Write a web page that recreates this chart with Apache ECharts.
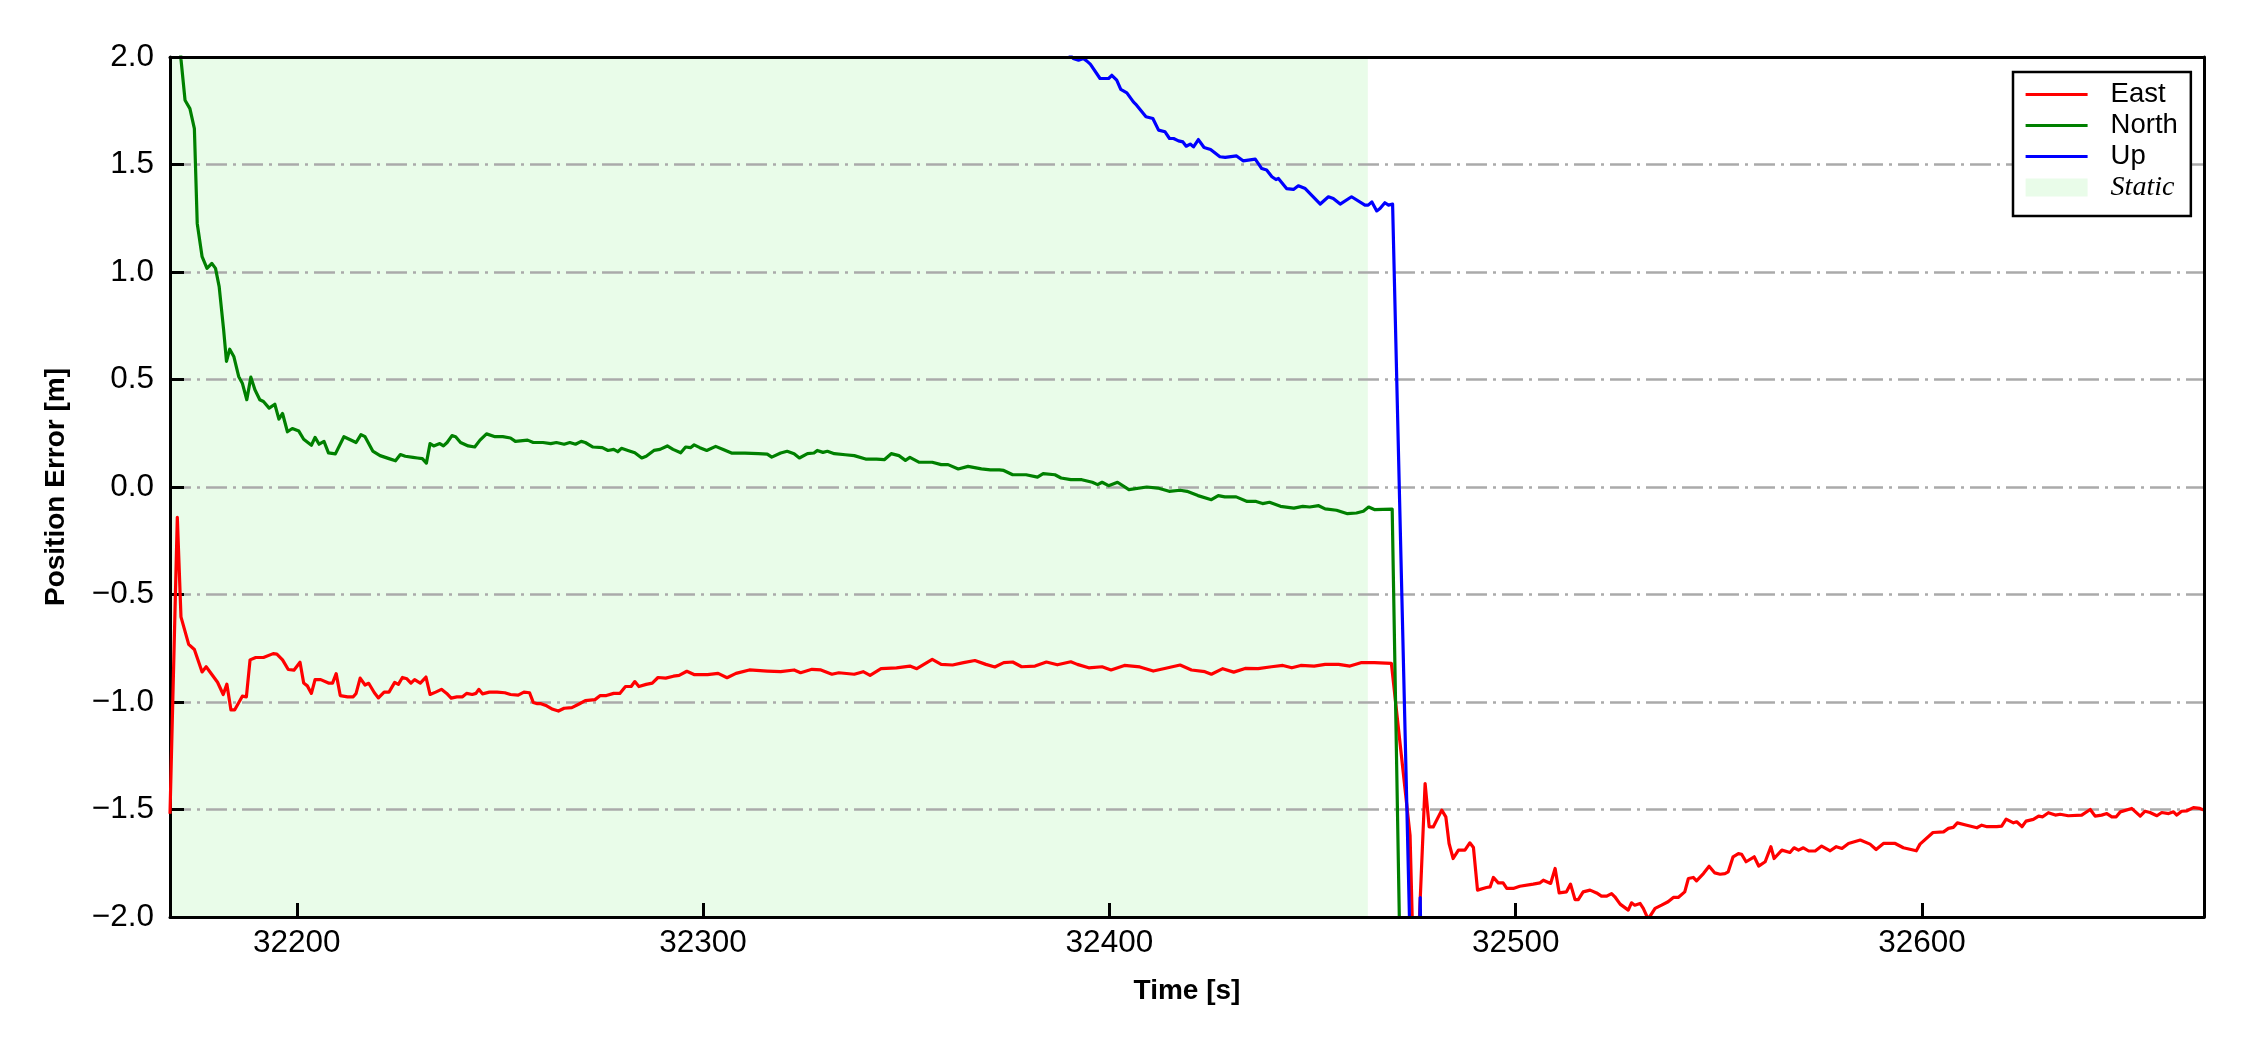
<!DOCTYPE html>
<html>
<head>
<meta charset="utf-8">
<script src="https://cdn.jsdelivr.net/npm/echarts@6/dist/echarts.min.js"></script>
<style>
html,body{margin:0;padding:0;background:#fff;}
#chart{width:2250px;height:1050px;}
</style>
</head>
<body>
<div id="chart"></div>
<script>
// ---- data ----
const xMin = 32168.8, xMax = 32669.4;
const yMin = -2, yMax = 2, yStep = 0.5;
const staticStart = 32168.8, staticEnd = 32463.6;

const eastT = [32168.8,32170.6,32171.5,32173.4,32174.8,32176.7,32177.7,32180.5,32181.9,32182.8,32183.8,32184.7,32186.6,32187.6,32188.5,32189.9,32191.8,32194.2,32195.1,32196.5,32197.9,32199.3,32200.8,32201.7,32202.6,32203.6,32204.5,32205.9,32207.8,32208.8,32209.7,32210.7,32212.5,32213.9,32214.6,32215.6,32216.8,32217.7,32219.1,32220.1,32221.5,32222.7,32224.1,32225.0,32226.0,32227.1,32228.1,32229.0,32230.4,32231.8,32232.8,32234.2,32235.6,32236.9,32238.0,32239.4,32240.8,32241.8,32243.2,32244.1,32244.8,32245.7,32247.4,32249.3,32251.2,32252.6,32254.5,32255.9,32257.3,32258.2,32259.2,32260.1,32261.5,32263.0,32264.4,32265.8,32267.7,32269.6,32271.0,32273.4,32274.7,32276.2,32278.0,32279.5,32280.9,32282.3,32283.2,32284.2,32286.0,32287.5,32288.9,32290.8,32292.7,32294.1,32296.0,32297.9,32299.3,
32301.1,32303.7,32305.9,32308.1,32311.4,32315.8,32319.1,32322.4,32324.0,32326.8,32329.0,32331.7,32333.4,32337.2,32339.4,32341.1,32343.8,32347.6,32350.9,32352.6,32356.4,32358.6,32361.4,32364.1,32366.9,32369.6,32371.8,32374.0,32376.2,32378.4,32381.7,32384.5,32387.2,32390.5,32392.1,32394.9,32398.2,32400.4,32403.7,32407.5,32410.8,32413.6,32417.4,32420.2,32423.5,32425.1,32427.9,32430.6,32433.4,32436.6,32439.9,32442.7,32444.9,32447.1,32450.4,32453.1,32456.4,32459.2,32461.9,32465.2,32469.4,
32474.0,32475.2,32477.7,32478.7,32479.7,32481.8,32482.8,32483.6,32484.6,32485.9,32487.5,32488.7,32489.6,32490.6,32492.8,32493.7,32494.5,32495.7,32496.9,32497.8,32499.4,32501.0,32504.3,32506.0,32506.8,32508.6,32509.7,32510.7,32512.5,32513.5,32514.6,32515.4,32516.6,32518.3,32519.9,32521.1,32522.4,32523.6,32524.4,32525.7,32527.7,32528.5,32529.3,32530.6,32531.4,32532.6,32534.3,32535.9,32537.5,32538.8,32540.0,32541.6,32542.5,32543.7,32544.5,32546.2,32547.6,32549.0,32550.3,32551.5,32552.3,32553.5,32554.8,32555.6,32556.7,
32558.7,32559.8,32561.4,32562.8,32563.6,32565.5,32567.5,32568.5,32569.6,32570.8,32572.1,32573.7,32575.3,32577.4,32578.9,32580.3,32581.9,32584.8,32587.2,32588.7,32590.5,32593.4,32595.4,32598.6,32599.5,32602.7,32605.3,32606.5,32607.7,32608.7,32611.0,32613.5,32614.7,32616.0,32618.4,32619.6,32620.7,32622.5,32623.3,32624.6,32625.6,32627.4,32628.7,32629.7,32631.1,32632.8,32634.0,32636.0,32639.3,32641.4,32642.6,32644.2,32645.5,32646.7,32647.8,32648.8,32651.6,32653.7,32654.9,32656.1,32657.8,32659.0,32660.7,32661.9,32662.7,32663.9,32665.2,32666.8,32668.4,32669.4];
const eastV = [-1.52,-0.141,-0.604,-0.732,-0.756,-0.86,-0.836,-0.908,-0.965,-0.917,-1.037,-1.037,-0.973,-0.976,-0.804,-0.793,-0.793,-0.775,-0.777,-0.804,-0.849,-0.852,-0.815,-0.912,-0.925,-0.96,-0.896,-0.896,-0.912,-0.912,-0.868,-0.97,-0.976,-0.976,-0.96,-0.889,-0.921,-0.913,-0.957,-0.981,-0.954,-0.954,-0.909,-0.918,-0.886,-0.892,-0.912,-0.896,-0.912,-0.884,-0.965,-0.954,-0.941,-0.96,-0.982,-0.976,-0.976,-0.96,-0.965,-0.96,-0.941,-0.962,-0.954,-0.954,-0.957,-0.965,-0.968,-0.954,-0.957,-1.002,-1.008,-1.008,-1.018,-1.034,-1.042,-1.029,-1.026,-1.008,-0.994,-0.989,-0.97,-0.97,-0.96,-0.96,-0.928,-0.928,-0.905,-0.928,-0.918,-0.912,-0.886,-0.889,-0.88,-0.876,-0.857,-0.873,-0.872,
-0.873,-0.867,-0.887,-0.867,-0.851,-0.856,-0.859,-0.851,-0.864,-0.848,-0.851,-0.871,-0.864,-0.871,-0.859,-0.876,-0.845,-0.841,-0.833,-0.845,-0.802,-0.825,-0.828,-0.817,-0.807,-0.825,-0.837,-0.817,-0.814,-0.836,-0.833,-0.814,-0.827,-0.813,-0.825,-0.841,-0.836,-0.851,-0.83,-0.837,-0.856,-0.844,-0.828,-0.851,-0.859,-0.871,-0.845,-0.861,-0.844,-0.845,-0.836,-0.83,-0.841,-0.83,-0.833,-0.825,-0.825,-0.833,-0.817,-0.817,-0.82,
-1.62,-2.5,-1.379,-1.581,-1.581,-1.503,-1.534,-1.658,-1.728,-1.689,-1.689,-1.655,-1.677,-1.875,-1.863,-1.86,-1.816,-1.841,-1.841,-1.867,-1.867,-1.857,-1.847,-1.841,-1.829,-1.844,-1.774,-1.888,-1.883,-1.847,-1.919,-1.919,-1.883,-1.875,-1.888,-1.903,-1.903,-1.891,-1.906,-1.94,-1.968,-1.934,-1.945,-1.937,-1.96,-2.01,-1.96,-1.945,-1.929,-1.909,-1.909,-1.883,-1.821,-1.816,-1.832,-1.798,-1.764,-1.795,-1.801,-1.798,-1.79,-1.72,-1.705,-1.708,-1.743,
-1.72,-1.763,-1.743,-1.673,-1.728,-1.689,-1.7,-1.678,-1.689,-1.678,-1.693,-1.693,-1.67,-1.692,-1.673,-1.681,-1.658,-1.642,-1.661,-1.686,-1.658,-1.658,-1.678,-1.692,-1.661,-1.607,-1.604,-1.588,-1.583,-1.562,-1.573,-1.585,-1.573,-1.58,-1.58,-1.577,-1.545,-1.562,-1.557,-1.58,-1.554,-1.546,-1.531,-1.534,-1.515,-1.526,-1.522,-1.529,-1.526,-1.5,-1.531,-1.526,-1.519,-1.534,-1.534,-1.511,-1.495,-1.531,-1.508,-1.514,-1.529,-1.514,-1.519,-1.511,-1.526,-1.508,-1.506,-1.491,-1.495,-1.503];

const northT = [32169.8,32171.5,32172.5,32173.7,32174.8,32175.5,32176.7,32177.9,32179.1,32180.0,32180.9,32182.0,32182.7,32183.5,32184.5,32185.7,32186.6,32187.7,32188.7,32189.7,32190.9,32191.8,32193.2,32194.6,32195.6,32196.5,32197.7,32198.9,32200.5,32201.7,32203.6,32204.5,32205.5,32206.7,32207.8,32209.5,32211.6,32214.6,32215.8,32216.8,32218.7,32220.5,32222.7,32224.3,32225.5,32226.7,32228.6,32229.7,32230.9,32231.9,32232.8,32233.7,32235.2,32236.1,32237.0,32238.2,32239.1,32240.3,32242.2,32243.8,32245.1,32246.7,32248.8,32250.7,32252.6,32253.8,32256.8,32258.2,32260.6,32262.5,32263.9,32265.8,32267.2,32268.6,32270.0,32271.0,32272.9,32275.2,32276.6,32278.0,32279.0,32279.9,32281.5,32283.2,32284.9,32286.0,32287.9,32289.4,32291.2,32292.6,32294.5,32295.7,32296.9,32297.8,32299.2,
32300.9,32303.1,32304.8,32307.0,32310.3,32313.6,32315.8,32316.9,32319.1,32320.7,32322.4,32323.7,32325.7,32327.3,32328.1,32329.5,32330.6,32332.3,32335.0,32337.2,32340.0,32342.7,32344.6,32346.3,32348.2,32349.8,32350.9,32353.1,32356.4,32358.6,32360.3,32362.8,32365.2,32368.5,32370.7,32372.9,32374.0,32376.2,32379.5,32382.3,32383.7,32386.6,32388.1,32390.5,32393.2,32395.8,32397.1,32398.2,32399.8,32402.0,32404.8,32409.2,32411.9,32414.7,32417.4,32419.1,32421.8,32425.1,32426.8,32428.4,32431.2,32433.9,32436.1,32437.7,32439.4,32442.1,32445.4,32447.6,32449.3,32451.5,32453.1,32455.9,32458.6,32460.8,32462.5,32463.8,32465.2,32469.6,32472.0];
const northV = [2.5,1.99,1.799,1.76,1.667,1.226,1.071,1.017,1.04,1.017,0.932,0.731,0.584,0.641,0.607,0.514,0.483,0.406,0.511,0.452,0.406,0.398,0.367,0.385,0.316,0.342,0.257,0.272,0.26,0.222,0.194,0.231,0.199,0.212,0.159,0.154,0.234,0.207,0.244,0.234,0.167,0.146,0.132,0.122,0.151,0.143,0.138,0.135,0.132,0.111,0.202,0.191,0.202,0.191,0.207,0.239,0.234,0.207,0.191,0.186,0.218,0.247,0.234,0.234,0.228,0.212,0.218,0.207,0.207,0.202,0.207,0.199,0.207,0.199,0.212,0.207,0.186,0.183,0.17,0.175,0.164,0.18,0.17,0.159,0.135,0.143,0.17,0.175,0.191,0.175,0.159,0.186,0.183,0.196,0.183,
0.17,0.189,0.176,0.158,0.158,0.155,0.153,0.139,0.158,0.166,0.155,0.135,0.155,0.158,0.17,0.161,0.166,0.155,0.15,0.146,0.13,0.13,0.127,0.155,0.146,0.124,0.138,0.116,0.115,0.104,0.104,0.084,0.096,0.084,0.08,0.08,0.077,0.057,0.057,0.046,0.062,0.057,0.042,0.034,0.034,0.022,0.011,0.022,0.006,0.022,-0.012,0.0,-0.005,-0.02,-0.015,-0.02,-0.04,-0.059,-0.04,-0.046,-0.046,-0.067,-0.067,-0.077,-0.071,-0.09,-0.098,-0.09,-0.093,-0.087,-0.102,-0.108,-0.124,-0.121,-0.113,-0.093,-0.105,-0.103,-2.7];

const upT = [32389.0,32391.1,32392.4,32393.6,32394.4,32395.3,32397.7,32399.8,32400.6,32401.8,32402.8,32404.3,32405.9,32406.7,32409.0,32410.7,32412.1,32413.7,32414.8,32415.8,32417.0,32418.1,32418.9,32419.9,32420.7,32421.9,32423.3,32424.9,32427.2,32428.5,32431.3,32432.9,32435.9,32437.5,32438.7,32440.0,32441.0,32441.6,32443.6,32445.3,32446.5,32448.2,32451.9,32453.9,32455.1,32456.8,32459.6,32462.9,32463.7,32464.6,32465.8,32466.6,32467.8,32468.7,32469.7,32474.6,32476.0,32476.5,32477.0];
const upV = [2.04,1.993,1.985,1.993,1.982,1.967,1.9,1.9,1.915,1.892,1.849,1.833,1.791,1.776,1.722,1.714,1.66,1.652,1.621,1.621,1.61,1.605,1.585,1.595,1.582,1.616,1.579,1.57,1.536,1.533,1.54,1.517,1.525,1.481,1.474,1.443,1.43,1.435,1.388,1.384,1.401,1.388,1.316,1.35,1.342,1.316,1.35,1.311,1.311,1.326,1.284,1.295,1.322,1.311,1.316,-2.6,-2.4,-1.91,-2.6];

const seriesNames = ['East', 'North', 'Up'];
const seriesColors = ['#ff0000', '#008000', '#0000ff'];
const staticName = 'Static';
const staticColor = '#e9fce9';

// ---- build ----
function zip(t, v) { return t.map((x, i) => [x, v[i]]); }
const fmtY = v => (v < 0 ? '\u2212' : '') + Math.abs(v).toFixed(1);
const SANS = 'Liberation Sans';

const chart = echarts.init(document.getElementById('chart'), null, {renderer: 'canvas'});
const lineSeries = [zip(eastT, eastV), zip(northT, northV), zip(upT, upV)].map((d, i) => ({
  name: seriesNames[i], type: 'line', data: d, symbol: 'none', showSymbol: false,
  z: 3, clip: true, animation: false,
  lineStyle: {color: seriesColors[i], width: 3.2, join: 'round'},
  itemStyle: {color: seriesColors[i]}
}));

const legendText = {fontFamily: SANS, fontSize: 27.5, color: '#000', lineHeight: 31, padding: [0, 0, 0, 18]};
const noSymbol = {color: 'rgba(0,0,0,0)', borderColor: 'rgba(0,0,0,0)', borderWidth: 0, opacity: 0};

const option = {
  animation: false,
  backgroundColor: '#ffffff',
  grid: {left: 170, top: 57, width: 2034, height: 860, containLabel: false},
  legend: {
    left: 2013, top: 72, orient: 'vertical', selectedMode: false,
    itemWidth: 62, itemHeight: 18, itemGap: 0,
    padding: [7, 13, 13, 11],
    borderColor: '#000', borderWidth: 2.5, borderRadius: 0, backgroundColor: '#fff',
    textStyle: legendText,
    data: seriesNames.map((n, i) => ({name: n, itemStyle: noSymbol,
        lineStyle: {color: seriesColors[i], width: 3.2, opacity: 1}})).concat([
      {name: staticName, icon: 'rect', itemStyle: {color: staticColor, opacity: 1},
       textStyle: {fontFamily: 'Liberation Serif', fontStyle: 'italic', fontSize: 28, color: '#000', lineHeight: 31, padding: [0, 0, 0, 18]}}
    ])
  },
  xAxis: [{
    type: 'value', min: xMin, max: xMax, position: 'bottom', z: 4,
    name: 'Time [s]', nameLocation: 'middle', nameGap: 60,
    nameTextStyle: {fontFamily: SANS, fontWeight: 'bold', fontSize: 28, color: '#000'},
    axisLine: {show: true, onZero: false, lineStyle: {color: '#000', width: 3}},
    axisTick: {show: true, inside: true, length: 14, lineStyle: {color: '#000', width: 3}},
    axisLabel: {fontFamily: SANS, fontSize: 31.5, color: '#000', margin: 10,
      showMinLabel: false, showMaxLabel: false,
      formatter: v => (Math.abs(v % 100) < 1e-6 ? String(v) : '')},
    splitLine: {show: false}
  }, {
    type: 'value', min: xMin, max: xMax, position: 'top', z: 4,
    axisLine: {show: true, onZero: false, lineStyle: {color: '#000', width: 3}},
    axisTick: {show: false}, axisLabel: {show: false}, splitLine: {show: false}
  }],
  yAxis: [{
    type: 'value', min: yMin, max: yMax, interval: yStep, position: 'left', z: 2,
    name: 'Position Error [m]', nameLocation: 'middle', nameGap: 100,
    nameTextStyle: {fontFamily: SANS, fontWeight: 'bold', fontSize: 28, color: '#000'},
    axisLine: {show: true, onZero: false, lineStyle: {color: '#000', width: 3}},
    axisTick: {show: true, inside: true, length: 14, lineStyle: {color: '#000', width: 3}},
    axisLabel: {fontFamily: SANS, fontSize: 31.5, color: '#000', margin: 16, formatter: fmtY},
    splitLine: {show: true, lineStyle: {color: '#aaaaaa', width: 2.6, type: [21, 6, 3, 6]}}
  }, {
    type: 'value', min: yMin, max: yMax, interval: yStep, position: 'right', z: 4,
    axisLine: {show: true, onZero: false, lineStyle: {color: '#000', width: 3}},
    axisTick: {show: false}, axisLabel: {show: false}, splitLine: {show: false}
  }],
  series: [{
    name: staticName, type: 'line', data: [], z: 0,
    itemStyle: {color: staticColor}, lineStyle: {color: staticColor},
    markArea: {silent: true, z: 0, itemStyle: {color: staticColor, opacity: 1},
      data: [[{xAxis: staticStart}, {xAxis: staticEnd}]]}
  }].concat(lineSeries)
};
chart.setOption(option);
</script>
</body>
</html>
